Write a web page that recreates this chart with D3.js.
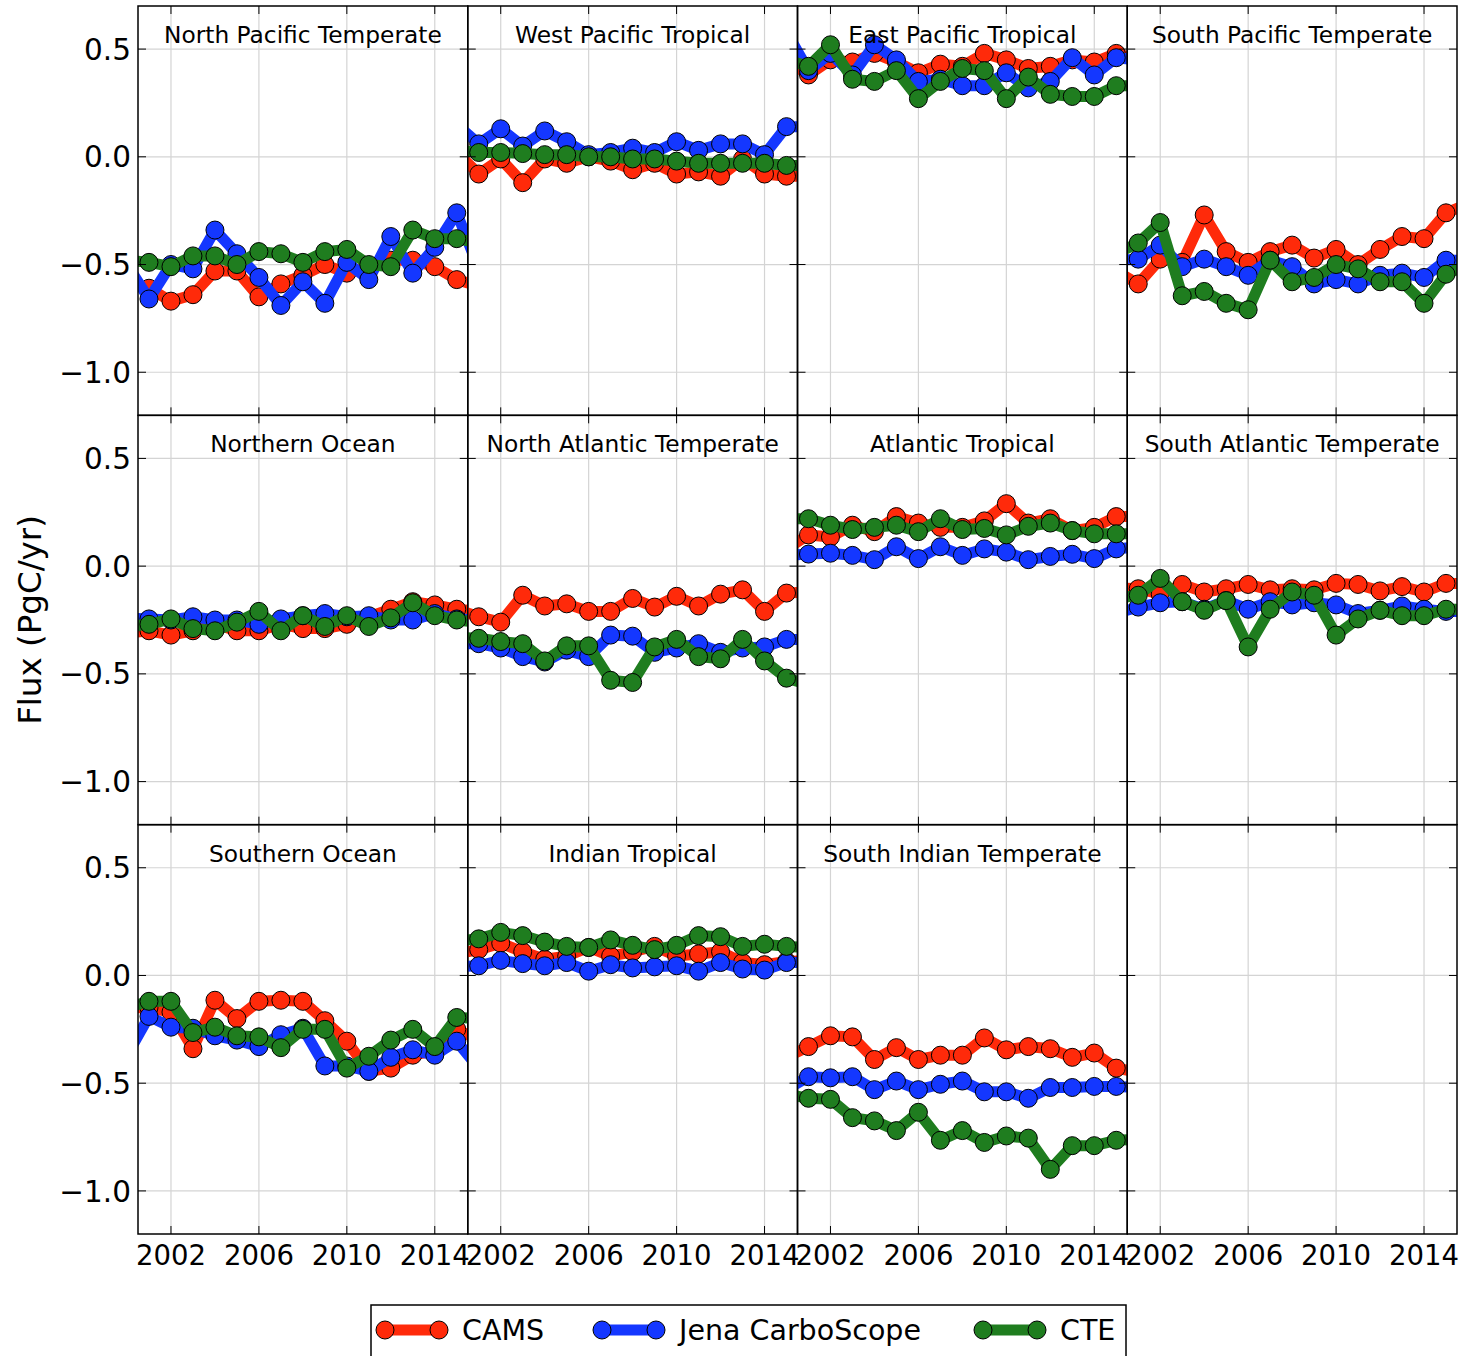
<!DOCTYPE html>
<html>
<head>
<meta charset="utf-8">
<script src="https://cdn.jsdelivr.net/npm/d3@7"></script>
<style>
  html, body { margin: 0; padding: 0; background: #fff; }
  svg text { font-family: "DejaVu Sans", sans-serif; fill: #000; }
</style>
</head>
<body>
<div id="chart"></div>
<script>
// years 2000..2016 (axes only show 2000.5..2015.5, the outer points get clipped)
const years = d3.range(2000, 2017);
const xTicks = [2002, 2006, 2010, 2014];
const yTicks = [0.5, 0.0, -0.5, -1.0];

const regions = [
    'North Pacific Temperate', 'West Pacific Tropical', 'East Pacific Tropical', 'South Pacific Temperate',
    'Northern Ocean', 'North Atlantic Temperate', 'Atlantic Tropical', 'South Atlantic Temperate',
    'Southern Ocean', 'Indian Tropical', 'South Indian Temperate'
];

const models = ['CAMS', 'Jena CarboScope', 'CTE'];
const modelColors = ['#ff2a0a', '#1437ff', '#1f7d1f'];

// one row per region, one value per year (PgC/yr)
const camsFlux = [
    [-0.58, -0.61, -0.67, -0.64, -0.53, -0.53, -0.65, -0.59, -0.55, -0.50, -0.54, -0.51, -0.48, -0.48, -0.51, -0.57, -0.60],
    [0.02, -0.08, -0.01, -0.12, -0.01, -0.03, 0.00, -0.02, -0.06, -0.03, -0.08, -0.07, -0.09, -0.01, -0.08, -0.09, -0.09],
    [0.45, 0.38, 0.45, 0.44, 0.48, 0.44, 0.39, 0.43, 0.42, 0.48, 0.45, 0.41, 0.42, 0.45, 0.44, 0.48, 0.45],
    [-0.53, -0.59, -0.475, -0.49, -0.27, -0.44, -0.49, -0.44, -0.41, -0.47, -0.43, -0.50, -0.43, -0.37, -0.38, -0.26, -0.22],
    [-0.31, -0.30, -0.32, -0.30, -0.27, -0.30, -0.30, -0.27, -0.29, -0.29, -0.27, -0.235, -0.20, -0.165, -0.18, -0.20, -0.21],
    [-0.20, -0.235, -0.26, -0.135, -0.185, -0.175, -0.21, -0.21, -0.15, -0.19, -0.14, -0.185, -0.13, -0.11, -0.21, -0.125, -0.12],
    [0.08, 0.145, 0.135, 0.19, 0.16, 0.23, 0.20, 0.18, 0.18, 0.21, 0.29, 0.20, 0.22, 0.165, 0.18, 0.23, 0.23],
    [-0.10, -0.105, -0.13, -0.085, -0.12, -0.105, -0.085, -0.11, -0.105, -0.11, -0.08, -0.085, -0.115, -0.095, -0.12, -0.08, -0.08],
    [-0.15, -0.15, -0.17, -0.34, -0.115, -0.20, -0.12, -0.115, -0.12, -0.21, -0.305, -0.445, -0.43, -0.37, -0.35, -0.25, -0.30],
    [0.10, 0.12, 0.15, 0.11, 0.075, 0.09, 0.13, 0.09, 0.11, 0.135, 0.09, 0.10, 0.11, 0.06, 0.05, 0.065, 0.07],
    [-0.38, -0.33, -0.28, -0.285, -0.39, -0.335, -0.39, -0.37, -0.37, -0.29, -0.345, -0.33, -0.34, -0.38, -0.36, -0.43, -0.45]
];

const jenaFlux = [
    [-0.50, -0.66, -0.50, -0.52, -0.34, -0.45, -0.56, -0.69, -0.58, -0.68, -0.49, -0.57, -0.37, -0.54, -0.42, -0.26, -0.52],
    [0.15, 0.06, 0.13, 0.05, 0.12, 0.07, 0.01, 0.02, 0.04, 0.02, 0.07, 0.03, 0.06, 0.06, 0.01, 0.14, 0.14],
    [0.58, 0.40, 0.48, 0.38, 0.52, 0.45, 0.35, 0.36, 0.33, 0.33, 0.39, 0.32, 0.35, 0.46, 0.38, 0.46, 0.45],
    [-0.48, -0.475, -0.41, -0.51, -0.475, -0.51, -0.55, -0.48, -0.51, -0.59, -0.57, -0.59, -0.55, -0.54, -0.56, -0.48, -0.48],
    [-0.24, -0.245, -0.25, -0.235, -0.25, -0.25, -0.27, -0.245, -0.23, -0.22, -0.235, -0.23, -0.25, -0.25, -0.22, -0.245, -0.25],
    [-0.36, -0.36, -0.38, -0.42, -0.445, -0.39, -0.42, -0.32, -0.325, -0.40, -0.38, -0.36, -0.40, -0.38, -0.375, -0.34, -0.34],
    [0.05, 0.056, 0.06, 0.05, 0.03, 0.09, 0.035, 0.09, 0.05, 0.08, 0.065, 0.03, 0.045, 0.055, 0.035, 0.08, 0.09],
    [-0.22, -0.19, -0.17, -0.165, -0.20, -0.16, -0.20, -0.165, -0.18, -0.17, -0.18, -0.22, -0.205, -0.185, -0.20, -0.21, -0.21],
    [-0.37, -0.19, -0.24, -0.245, -0.28, -0.30, -0.33, -0.275, -0.245, -0.42, -0.42, -0.445, -0.38, -0.345, -0.37, -0.305, -0.43],
    [0.04, 0.045, 0.07, 0.055, 0.045, 0.06, 0.02, 0.05, 0.035, 0.04, 0.045, 0.02, 0.06, 0.03, 0.025, 0.06, 0.06],
    [-0.53, -0.47, -0.475, -0.47, -0.53, -0.49, -0.53, -0.505, -0.49, -0.54, -0.54, -0.57, -0.52, -0.52, -0.515, -0.515, -0.52]
];

const cteFlux = [
    [-0.48, -0.49, -0.51, -0.46, -0.46, -0.50, -0.44, -0.45, -0.49, -0.44, -0.43, -0.50, -0.51, -0.34, -0.38, -0.38, -0.40],
    [0.03, 0.02, 0.02, 0.015, 0.01, 0.01, 0.00, 0.00, -0.01, -0.01, -0.02, -0.03, -0.03, -0.03, -0.03, -0.04, -0.04],
    [0.45, 0.42, 0.52, 0.36, 0.35, 0.40, 0.27, 0.35, 0.41, 0.40, 0.27, 0.37, 0.29, 0.28, 0.28, 0.33, 0.33],
    [-0.45, -0.40, -0.305, -0.645, -0.625, -0.68, -0.71, -0.48, -0.58, -0.56, -0.50, -0.52, -0.58, -0.58, -0.68, -0.545, -0.50],
    [-0.28, -0.27, -0.245, -0.29, -0.30, -0.26, -0.21, -0.30, -0.23, -0.28, -0.23, -0.28, -0.24, -0.17, -0.23, -0.25, -0.26],
    [-0.33, -0.335, -0.35, -0.36, -0.44, -0.37, -0.37, -0.53, -0.54, -0.375, -0.34, -0.42, -0.43, -0.34, -0.44, -0.52, -0.55],
    [0.22, 0.22, 0.19, 0.17, 0.18, 0.19, 0.16, 0.22, 0.17, 0.175, 0.145, 0.185, 0.20, 0.165, 0.15, 0.15, 0.15],
    [-0.15, -0.135, -0.057, -0.165, -0.205, -0.16, -0.375, -0.20, -0.12, -0.135, -0.32, -0.245, -0.205, -0.23, -0.23, -0.20, -0.20],
    [-0.15, -0.12, -0.12, -0.265, -0.24, -0.28, -0.285, -0.335, -0.25, -0.25, -0.43, -0.375, -0.30, -0.25, -0.33, -0.195, -0.20],
    [0.16, 0.17, 0.20, 0.185, 0.155, 0.135, 0.13, 0.165, 0.14, 0.12, 0.14, 0.185, 0.18, 0.135, 0.145, 0.135, 0.13],
    [-0.55, -0.57, -0.575, -0.66, -0.675, -0.72, -0.635, -0.765, -0.72, -0.775, -0.745, -0.755, -0.90, -0.79, -0.79, -0.765, -0.76]
];

const fluxByModel = [camsFlux, jenaFlux, cteFlux];

const width = 1464, height = 1356;
const margin = {top: 6, left: 138, right: 7, bottom: 122};
const nCols = 4, nRows = 3;
const pw = (width - margin.left - margin.right) / nCols;
const ph = (height - margin.top - margin.bottom) / nRows;

const x = d3.scaleLinear().domain([2000.5, 2015.5]).range([0, pw]);
const y = d3.scaleLinear().domain([-1.2, 0.7]).range([ph, 0]);

const fmtY = d => d3.format('.1f')(d).replace('-', '\u2212');

const line = d3.line()
    .x((d, i) => x(years[i]))
    .y(d => y(d));

const svg = d3.select('#chart').append('svg')
    .attr('width', width)
    .attr('height', height)
    .attr('viewBox', [0, 0, width, height]);

const defs = svg.append('defs');
defs.append('clipPath').attr('id', 'panel-clip')
    .append('rect').attr('width', pw).attr('height', ph);

for (let p = 0; p < nRows * nCols; p++) {
    const col = p % nCols, row = Math.floor(p / nCols);
    const g = svg.append('g')
        .attr('transform', `translate(${margin.left + col * pw},${margin.top + row * ph})`);

    // grid
    g.append('g').selectAll('line').data(xTicks).join('line')
        .attr('x1', d => x(d)).attr('x2', d => x(d))
        .attr('y1', 0).attr('y2', ph)
        .attr('stroke', '#d4d4d4').attr('stroke-width', 1.2);
    g.append('g').selectAll('line').data(yTicks).join('line')
        .attr('y1', d => y(d)).attr('y2', d => y(d))
        .attr('x1', 0).attr('x2', pw)
        .attr('stroke', '#d4d4d4').attr('stroke-width', 1.2);

    if (p < regions.length) {
        const plot = g.append('g').attr('clip-path', 'url(#panel-clip)');
        fluxByModel.forEach((flux, m) => {
            const vals = flux[p];
            plot.append('path')
                .datum(vals)
                .attr('fill', 'none')
                .attr('stroke', modelColors[m])
                .attr('stroke-width', 11)
                .attr('stroke-linejoin', 'round')
                .attr('d', line);
            plot.append('g').selectAll('circle').data(vals).join('circle')
                .attr('cx', (d, i) => x(years[i]))
                .attr('cy', d => y(d))
                .attr('r', 9)
                .attr('fill', modelColors[m])
                .attr('stroke', '#000')
                .attr('stroke-width', 1);
        });

        g.append('text')
            .attr('x', pw / 2)
            .attr('y', 37)
            .attr('text-anchor', 'middle')
            .attr('font-size', 23.3)
            .text(regions[p]);
    }

    // inward ticks on all four sides
    const tk = 8;
    g.append('g').selectAll('line').data(xTicks).join('line')
        .attr('x1', d => x(d)).attr('x2', d => x(d)).attr('y1', 0).attr('y2', tk)
        .attr('stroke', '#000').attr('stroke-width', 1);
    g.append('g').selectAll('line').data(xTicks).join('line')
        .attr('x1', d => x(d)).attr('x2', d => x(d)).attr('y1', ph).attr('y2', ph - tk)
        .attr('stroke', '#000').attr('stroke-width', 1);
    g.append('g').selectAll('line').data(yTicks).join('line')
        .attr('y1', d => y(d)).attr('y2', d => y(d)).attr('x1', 0).attr('x2', tk)
        .attr('stroke', '#000').attr('stroke-width', 1);
    g.append('g').selectAll('line').data(yTicks).join('line')
        .attr('y1', d => y(d)).attr('y2', d => y(d)).attr('x1', pw).attr('x2', pw - tk)
        .attr('stroke', '#000').attr('stroke-width', 1);

    g.append('rect')
        .attr('width', pw).attr('height', ph)
        .attr('fill', 'none').attr('stroke', '#000').attr('stroke-width', 1.5);

    if (col === 0) {
        g.append('g').selectAll('text').data(yTicks).join('text')
            .attr('x', -7)
            .attr('y', d => y(d))
            .attr('dy', '0.36em')
            .attr('text-anchor', 'end')
            .attr('font-size', 29.5)
            .text(fmtY);
    }
    if (row === nRows - 1) {
        g.append('g').selectAll('text').data(xTicks).join('text')
            .attr('x', d => x(d))
            .attr('y', ph + 31)
            .attr('text-anchor', 'middle')
            .attr('font-size', 27.5)
            .text(d => d);
    }
}

// y axis label
svg.append('text')
    .attr('transform', `translate(41,${margin.top + ph * 1.5}) rotate(-90)`)
    .attr('text-anchor', 'middle')
    .attr('font-size', 32.5)
    .text('Flux (PgC/yr)');

// legend
const legend = svg.append('g').attr('transform', 'translate(371,1305)');
legend.append('rect')
    .attr('width', 755).attr('height', 70)
    .attr('fill', '#fff').attr('stroke', '#000').attr('stroke-width', 1.5);

const legendX = [14, 231, 612];
models.forEach((name, m) => {
    const lg = legend.append('g').attr('transform', `translate(${legendX[m]},25)`);
    lg.append('line')
        .attr('x1', 0).attr('x2', 54)
        .attr('stroke', modelColors[m]).attr('stroke-width', 11);
    lg.selectAll('circle').data([0, 54]).join('circle')
        .attr('cx', d => d).attr('cy', 0).attr('r', 9)
        .attr('fill', modelColors[m]).attr('stroke', '#000').attr('stroke-width', 1);
    lg.append('text')
        .attr('x', 77)
        .attr('dy', '0.36em')
        .attr('font-size', 28.5)
        .text(name);
});
</script>
</body>
</html>
